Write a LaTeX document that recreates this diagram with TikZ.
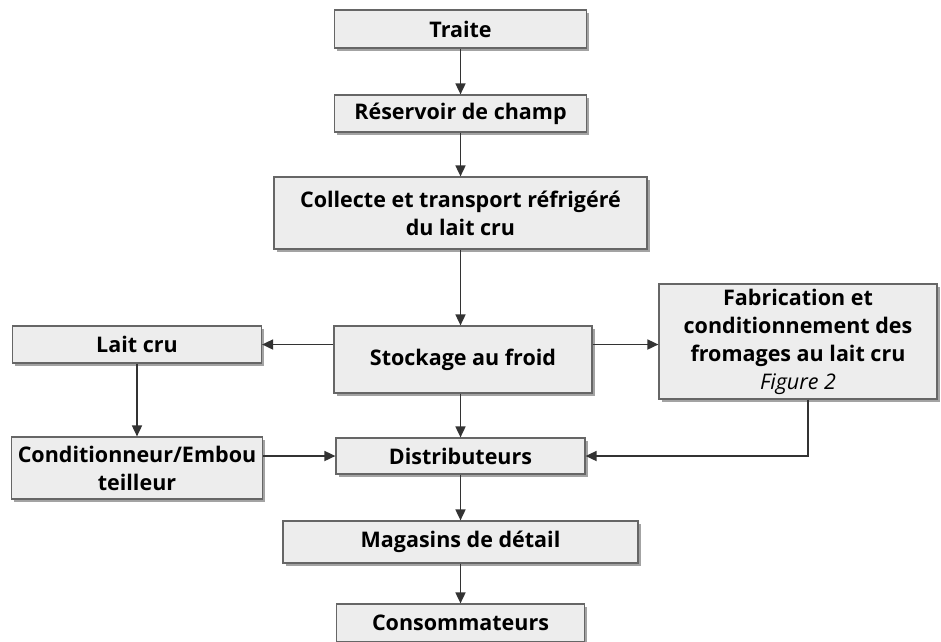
\documentclass[tikz,border=0pt]{standalone}
\usepackage{fontspec}
\setmainfont{Open Sans}
\usetikzlibrary{arrows.meta,shadows}

\begin{document}
\begin{tikzpicture}[x=1pt, y=-1pt,
  etape/.style={draw=black!60, line width=1.2pt, fill=black!7, inner sep=0pt, align=center,
    font=\fontsize{21.5}{28}\selectfont\bfseries,
    drop shadow={shadow xshift=2.5pt, shadow yshift=-3pt, fill=black!60, opacity=0.6}},
  fleche/.style={draw=black!80, line width=1.7pt, -{Triangle[length=11pt, width=10pt]}}]
\useasboundingbox (0,0) rectangle (941,641);
% colonne centrale
\node[etape, minimum width=252pt, minimum height=38pt] (traite) at (460.5,29) {Traite};
\node[etape, minimum width=252pt, minimum height=37pt] (reservoir) at (460.5,113.5) {Réservoir de champ};
\node[etape, minimum width=373pt, minimum height=72pt] (collecte) at (460.5,213) {Collecte et transport réfrigéré\\du lait cru};
\node[etape, minimum width=258pt, minimum height=67pt] (stockage) at (463,359.5) {Stockage au froid};
\node[etape, minimum width=249pt, minimum height=36pt] (distrib) at (460.5,456) {Distributeurs};
\node[etape, minimum width=355pt, minimum height=42pt] (magasins) at (460.5,542) {Magasins de détail};
\node[etape, minimum width=248pt, minimum height=38pt] (conso) at (460.5,623) {Consommateurs};
% branches
\node[etape, minimum width=249pt, minimum height=37pt] (laitcru) at (137,344.5) {Lait cru};
\node[etape, minimum width=251pt, minimum height=62pt] (condi) at (137,468) {Conditionneur/Embou\\teilleur};
\node[etape, minimum width=278pt, minimum height=115pt] (fabrication) at (798,341.5) {Fabrication et\\conditionnement des\\fromages au lait cru\\{\mdseries\itshape Figure 2}};
\coordinate (coude) at (808,456);
% fleches
\draw[fleche] (traite) -- (reservoir);
\draw[fleche] (reservoir) -- (collecte);
\draw[fleche] (collecte.south) -- (collecte.south |- stockage.north);
\draw[fleche] (stockage.west |- laitcru) -- (laitcru.east);
\draw[fleche] (stockage.east |- laitcru) -- (fabrication.west |- laitcru);
\draw[fleche] (distrib |- stockage.south) -- (distrib.north);
\draw[fleche] (laitcru) -- (condi);
\draw[fleche] (condi.east |- distrib) -- (distrib.west);
\draw[fleche] (coude |- fabrication.south) -- (coude) -- (distrib.east);
\draw[fleche] (distrib) -- (magasins);
\draw[fleche] (magasins) -- (conso);
\end{tikzpicture}
\end{document}
